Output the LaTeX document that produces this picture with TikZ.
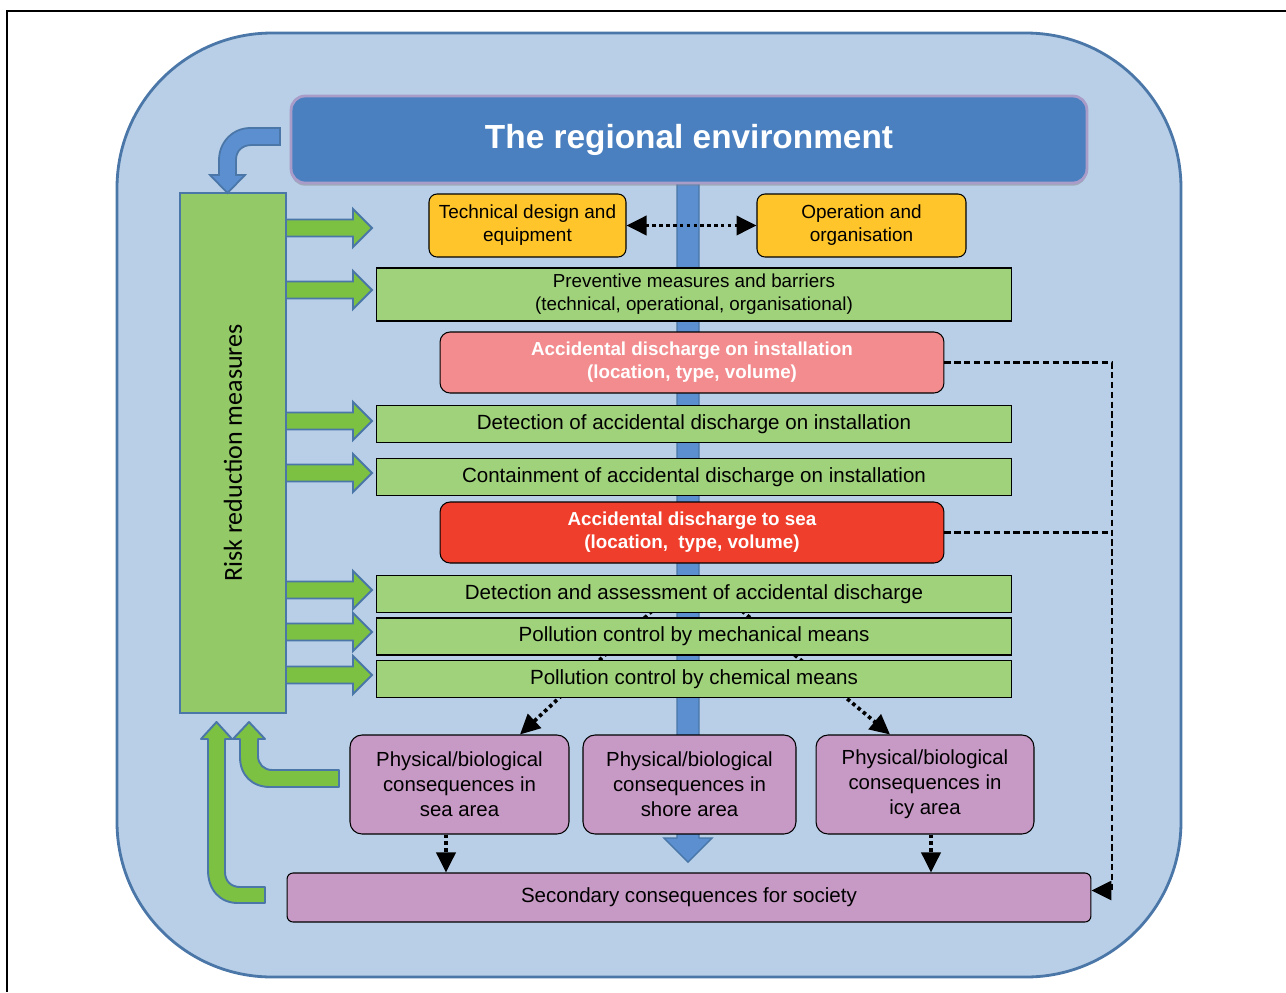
\documentclass[tikz,border=0pt]{standalone}
\usepackage{fontspec}
\setmainfont{Liberation Sans}
\newfontfamily\calibrifont{Carlito}
\usepackage{tikz}
\usetikzlibrary{arrows.meta, shadows}

\definecolor{bgblue}{HTML}{B8CFE7}
\definecolor{edgeblue}{HTML}{4A76A8}
\definecolor{titleblue}{HTML}{4A80C0}
\definecolor{titleedge}{HTML}{A99CC8}
\definecolor{barblue}{HTML}{5B8FCF}
\definecolor{riskgreen}{HTML}{93C966}
\definecolor{arrowgreen}{HTML}{7DC142}
\definecolor{boxgreen}{HTML}{A0D17B}
\definecolor{boxgold}{HTML}{FFC52A}
\definecolor{boxpink}{HTML}{F38C8E}
\definecolor{boxred}{HTML}{EF3E2B}
\definecolor{boxpurple}{HTML}{C799C5}

\begin{document}
\begin{tikzpicture}[x=0.02cm, y=-0.02cm,
  box/.style={draw=black, line width=0.6pt, inner sep=1pt, align=center, text=black},
  greenbox/.style={box, fill=boxgreen, minimum width=12.72cm, minimum height=0.74cm,
    font=\fontsize{11.7}{14}\selectfont},
  goldbox/.style={box, fill=boxgold, rounded corners=0.16cm, minimum height=1.26cm,
    font=\fontsize{10.8}{13}\selectfont},
  alertbox/.style={box, text=white, rounded corners=0.2cm, minimum width=10.08cm,
    minimum height=1.22cm, font=\bfseries\fontsize{10.7}{13}\selectfont},
  purplebox/.style={box, fill=boxpurple, rounded corners=0.24cm, minimum height=1.98cm,
    font=\fontsize{11.6}{14.2}\selectfont},
  greenarrow/.style={fill=arrowgreen, draw=edgeblue, line width=1.1pt, line join=miter},
  dotarrow/.style={black, line width=2.1pt, dash pattern=on 2pt off 1.9pt,
    -{Triangle[length=0.4cm, width=0.38cm]}},
  dashline/.style={black, line width=1.5pt, dash pattern=on 3.6pt off 2pt}]
  \useasboundingbox (0,0) rectangle (1286,992);

  % frame and background
  \draw[black, line width=1.2pt] (7,992) -- (7,11) -- (1286,11);
  \draw[fill=bgblue, draw=edgeblue, line width=1.6pt, rounded corners=3.1cm]
    (117,33) rectangle (1181,977);

  % central blue bar
  \draw[fill=barblue, draw=edgeblue, line width=0.8pt]
    (677,175) -- (677,838) -- (664,838) -- (688,862) -- (712,838) -- (699,838) -- (699,175) -- cycle;

  % title
  \node[box, fill=titleblue, draw=titleedge, line width=1.6pt, rounded corners=0.28cm,
    minimum width=15.92cm, minimum height=1.74cm, text=white,
    font=\bfseries\fontsize{19}{22}\selectfont,
    drop shadow={opacity=0.45, shadow xshift=0pt, shadow yshift=-1.5pt}]
    (title) at (689,139.5) {The regional environment};

  % risk box
  \node[box, fill=riskgreen, draw=edgeblue, line width=1pt, rotate=90,
    minimum width=10.4cm, minimum height=2.12cm,
    font=\calibrifont\fontsize{14.8}{17}\selectfont] (risk) at (233,453) {Risk reduction measures};

  % bent arrow from title
  \draw[fill=barblue, draw=edgeblue, line width=1pt]
    (280,128) -- (250,128) .. controls (233,128) and (219,142) .. (219,160) -- (219,175)
    -- (210,175) -- (227.5,193) -- (245,175) -- (236,175) -- (236,160)
    .. controls (236,151) and (242,145) .. (252,145) -- (280,145) -- cycle;

  % arrows from risk box
  \foreach \y in {228,290,421,473,590,632,675}{
    \draw[greenarrow] (286,\y-8.5) -- (353,\y-8.5) -- (353,\y-19) -- (372,\y)
      -- (353,\y+19) -- (353,\y+8.5) -- (286,\y+8.5) -- cycle;
  }

  % boxes
  \node[goldbox, minimum width=3.94cm] (tech) at (527.5,225.5) {Technical design and\\equipment};
  \node[goldbox, minimum width=4.18cm] (oper) at (861.5,225.5) {Operation and\\organisation};
  \node[greenbox, minimum height=1.06cm, font=\fontsize{10.7}{13}\selectfont] (prev) at (694,294.5)
    {Preventive measures and barriers\\(technical, operational, organisational)};
  \node[alertbox, fill=boxpink] (instdis) at (692,362.5)
    {Accidental discharge on installation\\(location, type, volume)};
  \node[greenbox] (detinst) at (694,424) {Detection of accidental discharge on installation};
  \node[greenbox] (contain) at (694,477) {Containment of accidental discharge on installation};
  \node[alertbox, fill=boxred] (seadis) at (692,532.5)
    {Accidental discharge to sea\\(location,\ \ type, volume)};

  % dotted lines behind the pollution boxes
  \coordinate (a1) at (652,611);
  \coordinate (a2) at (742,611);
  \node[purplebox, minimum width=4.38cm] (sea) at (459.5,784.5)
    {Physical/biological\\consequences in\\sea area};
  \node[purplebox, minimum width=4.26cm] (shore) at (689.5,784.5)
    {Physical/biological\\consequences in\\shore area};
  \node[purplebox, minimum width=4.36cm] (icy) at (925,784.5)
    {Physical/biological\\consequences in\\icy area};
  \draw[dotarrow] (a1) -- ([xshift=1.21cm]sea.north);
  \draw[dotarrow] (a2) -- ([xshift=-0.7cm]icy.north);

  \node[greenbox] (assess) at (694,594) {Detection and assessment of accidental discharge};
  \node[greenbox] (mech) at (694,636.5) {Pollution control by mechanical means};
  \node[greenbox] (chem) at (694,679) {Pollution control by chemical means};

  \node[box, fill=boxpurple, rounded corners=0.12cm, minimum width=16.08cm, minimum height=0.98cm,
    font=\fontsize{11.7}{14}\selectfont] (soc) at (689,897.5) {Secondary consequences for society};

  % dotted connectors
  \draw[dotarrow, {Triangle[length=0.4cm, width=0.38cm]}-{Triangle[length=0.4cm, width=0.38cm]}]
    (tech) -- (oper);
  \draw[dotarrow] ([xshift=-0.27cm]sea.south) -- ([xshift=-0.27cm]sea.south |- soc.north);
  \draw[dotarrow] ([xshift=0.12cm]icy.south) -- ([xshift=0.12cm]icy.south |- soc.north);

  % dashed feedback
  \coordinate (dx) at (1112,0);
  \draw[dashline, -{Triangle[length=0.4cm, width=0.38cm]}] (instdis.east) -- (instdis.east -| dx)
    -- ([yshift=0.14cm]dx |- soc.east) -- ([yshift=0.14cm]soc.east);
  \draw[dashline] (seadis.east) -- (seadis.east -| dx);

  % green return arrows
  \draw[greenarrow, line join=round]
    (339,770) -- (272,770) .. controls (264,770) and (258,764) .. (258,756) -- (258,739)
    -- (265,739) -- (249,722) -- (233,739) -- (240,739) -- (240,757)
    .. controls (240,775) and (252,787) .. (270,787) -- (339,787) -- cycle;
  \draw[greenarrow, line join=round]
    (265,887) -- (240,887) .. controls (231,887) and (225,881) .. (225,872) -- (225,739)
    -- (232,739) -- (216.5,722) -- (201,739) -- (208,739) -- (208,870)
    .. controls (208,890) and (220,903) .. (238,903) -- (265,903) -- cycle;
\end{tikzpicture}
\end{document}
